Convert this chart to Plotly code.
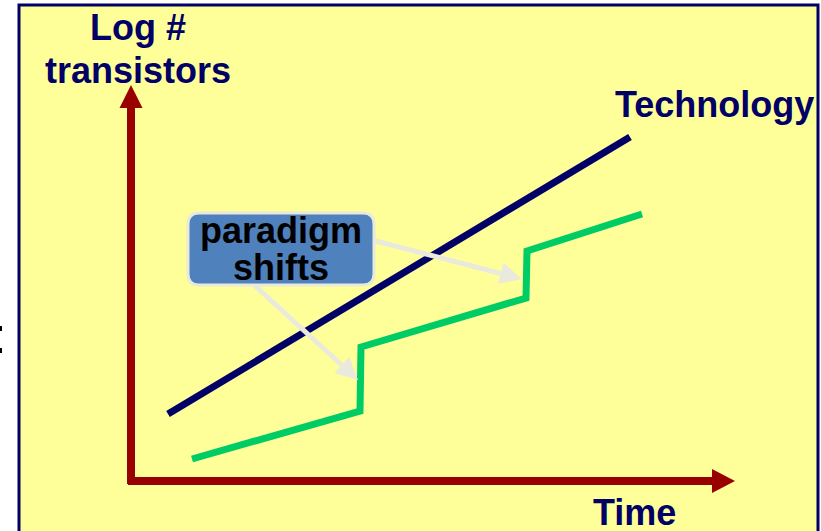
import math
import plotly.graph_objects as go

# ---- data (pixel-like canvas coordinates, y grows downward) ----
tech_x = [168, 630]
tech_y = [414, 137]

green_x = [192, 360, 361, 526, 527, 642]
green_y = [459, 411, 347, 298, 251, 214]

labels = {
    "y_title_1": "Log #",
    "y_title_2": "transistors",
    "x_title": "Time",
    "tech": "Technology",
    "box_1": "paradigm",
    "box_2": "shifts",
}

W, H = 821, 531
NAVY = "#000066"
RED = "#990000"
GREEN = "#00CC66"
YELLOW = "#FFFF99"
BOXBLUE = "#4F81BD"
ARROWGREY = "#EAEADC"
FONT = "Arial, Liberation Sans, sans-serif"

fig = go.Figure()

shapes = []
# background panel with navy border
shapes.append(dict(type="rect", x0=19, y0=5, x1=818, y1=540,
                   fillcolor=YELLOW, line=dict(color=NAVY, width=3), layer="below"))
# tiny cut-off marks at left edge
for y0, y1 in [(326, 331), (348, 353)]:
    shapes.append(dict(type="rect", x0=-1, x1=2, y0=y0, y1=y1,
                       fillcolor="#000000", line=dict(width=0)))

# axes arrows
shapes.append(dict(type="line", x0=131, y0=484, x1=131, y1=104, line=dict(color=RED, width=8)))
shapes.append(dict(type="path", path="M 119.5 108 L 131 85 L 142.5 108 Z", fillcolor=RED, line=dict(width=0)))
shapes.append(dict(type="line", x0=128, y0=481, x1=714, y1=481, line=dict(color=RED, width=8)))
shapes.append(dict(type="path", path="M 712 469 L 735 481 L 712 493 Z", fillcolor=RED, line=dict(width=0)))


def arrow(x0, y0, x1, y1, head_len=22, head_w=22, width=5, color=ARROWGREY):
    dx, dy = x1 - x0, y1 - y0
    L = math.hypot(dx, dy)
    ux, uy = dx / L, dy / L
    px, py = -uy, ux
    bx, by = x1 - ux * head_len, y1 - uy * head_len
    out = [dict(type="line", x0=x0, y0=y0, x1=bx + ux * 2, y1=by + uy * 2,
                line=dict(color=color, width=width))]
    path = (f"M {bx + px * head_w / 2} {by + py * head_w / 2} L {x1} {y1} "
            f"L {bx - px * head_w / 2} {by - py * head_w / 2} Z")
    out.append(dict(type="path", path=path, fillcolor=color, line=dict(width=0)))
    return out


fig.add_trace(go.Scatter(x=tech_x, y=tech_y, mode="lines",
                         line=dict(color=NAVY, width=7), hoverinfo="skip"))
fig.add_trace(go.Scatter(x=green_x, y=green_y, mode="lines",
                         line=dict(color=GREEN, width=7), hoverinfo="skip"))

arrow_shapes = arrow(252, 283, 358, 380) + arrow(372, 240, 522, 279)


def rounded_rect(x0, y0, x1, y1, r):
    return (f"M {x0 + r} {y0} L {x1 - r} {y0} Q {x1} {y0} {x1} {y0 + r} "
            f"L {x1} {y1 - r} Q {x1} {y1} {x1 - r} {y1} L {x0 + r} {y1} "
            f"Q {x0} {y1} {x0} {y1 - r} L {x0} {y0 + r} Q {x0} {y0} {x0 + r} {y0} Z")


box = dict(type="path", path=rounded_rect(188, 213, 374, 285, 11),
           fillcolor=BOXBLUE, line=dict(color=ARROWGREY, width=3), layer="above")

fig.update_layout(shapes=shapes + arrow_shapes + [box])

ann = []


def txt(s, x, y, color=NAVY, size=36):
    ann.append(dict(text=f"<b>{s}</b>", x=x, y=y, xref="x", yref="y", showarrow=False,
                    xanchor="center", yanchor="middle",
                    font=dict(family=FONT, size=size, color=color)))


txt(labels["y_title_1"], 138, 27)
txt(labels["y_title_2"], 138, 70)
txt(labels["tech"], 714, 104)
txt(labels["x_title"], 634, 512)
txt(labels["box_1"], 281, 230, color="#000000", size=36)
txt(labels["box_2"], 281, 267, color="#000000", size=36)

fig.update_layout(
    annotations=ann,
    width=W, height=H,
    margin=dict(l=0, r=0, t=0, b=0),
    paper_bgcolor="white", plot_bgcolor="white",
    showlegend=False,
    xaxis=dict(range=[0, W], visible=False, fixedrange=True),
    yaxis=dict(range=[H, 0], visible=False, fixedrange=True),
)

fig.write_html(
    "out.html",
    config={"displayModeBar": False},
    post_script="document.body.style.margin='0';document.body.style.overflow='hidden';",
)
